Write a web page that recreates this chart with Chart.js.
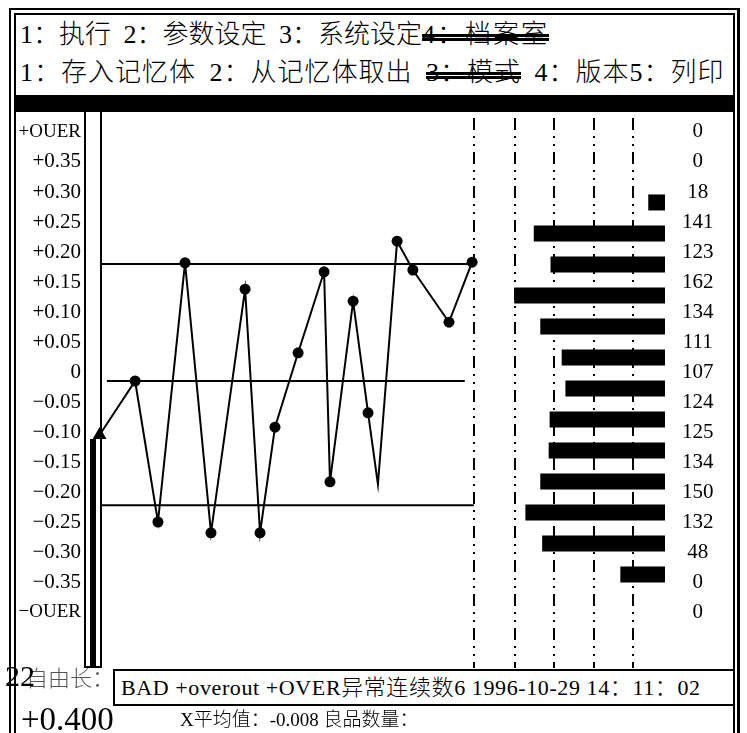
<!DOCTYPE html>
<html>
<head>
<meta charset="utf-8">
<script src="https://cdn.jsdelivr.net/npm/chart.js@4.4.0/dist/chart.umd.min.js"></script>
<style>
  body { margin: 0; width: 747px; height: 733px; background: #fff; position: relative; overflow: hidden;
         font-family: 'Liberation Serif', 'Noto Sans CJK SC', serif; color: #000; }
  .ln { position: absolute; background: #000; }
  .txt { position: absolute; white-space: nowrap; line-height: 1; }
  .menu { font-size: 26px; word-spacing: 6px; font-weight: 300; }
  .strike { text-decoration: line-through double 3px; }
  #msg { position: absolute; left: 113px; top: 669px; width: 612px; height: 33px; border: 2px solid #000;
         background: #fff; font-size: 22px; line-height: 33px; padding-left: 6px; white-space: nowrap;
         font-weight: 300; letter-spacing: 0.6px; }
  #chart { position: absolute; left: 16px; top: 112px; }
</style>
</head>
<body>
<!-- double frame -->
<div class="ln" style="left:9px;top:8px;width:2px;height:725px"></div>
<div class="ln" style="left:14px;top:13px;width:2px;height:720px"></div>
<div class="ln" style="left:9px;top:8px;width:731px;height:2px"></div>
<div class="ln" style="left:14px;top:13px;width:721px;height:2px"></div>
<div class="ln" style="left:733px;top:13px;width:2px;height:720px"></div>
<div class="ln" style="left:737px;top:8px;width:3px;height:725px"></div>
<div class="ln" style="left:14px;top:95px;width:721px;height:17px"></div>

<!-- menu rows -->
<div class="txt menu" style="left:20px;top:22px">1：执行 2：参数设定 3：系统设定<span class="strike" style="letter-spacing:2px">4：档案室</span></div>
<div class="txt menu" style="left:20px;top:60px;letter-spacing:1px">1：存入记忆体 2：从记忆体取出 <span class="strike">3：模式</span> 4：版本5：列印</div>

<canvas id="chart" width="717" height="556"></canvas>

<!-- status lines -->
<div class="txt" style="left:26px;top:668px;font-size:22px;color:#555;font-weight:300">自由长：</div>
<div class="txt" style="left:5px;top:661px;font-size:30px">22</div>
<div id="msg">BAD +overout +OVER异常连续数6 1996-10-29 14：11：02</div>
<div class="txt" style="left:21px;top:703px;font-size:33px">+0.400</div>
<div class="txt" style="left:180px;top:710px;font-size:19px;font-weight:300">X平均值：-0.008 良品数量：</div>

<script>
// level ticks shared by the value axis and the histogram
const levels = [0.40, 0.35, 0.30, 0.25, 0.20, 0.15, 0.10, 0.05, 0, -0.05, -0.10, -0.15, -0.20, -0.25, -0.30, -0.35, -0.40];
const levelLabels = ['+OUER', '+0.35', '+0.30', '+0.25', '+0.20', '+0.15', '+0.10', '+0.05', '0',
                     '−0.05', '−0.10', '−0.15', '−0.20', '−0.25', '−0.30', '−0.35', '−OUER'];
const binCounts = [0, 0, 18, 141, 123, 162, 134, 111, 107, 124, 125, 134, 150, 132, 48, 0, 0];

// measured samples (x = sample position, y = deviation)
const sampleX = [-0.05, 1.21, 2.02, 2.98, 3.90, 5.11, 5.64, 6.17, 6.99, 7.91, 8.12, 8.94, 9.47, 9.82, 10.50, 11.06, 12.34, 13.16];
const sampleY = [-0.09, 0.0, -0.235, 0.197, -0.253, 0.153, -0.253, -0.077, 0.047, 0.182, -0.168, 0.133, -0.053, -0.172, 0.233, 0.185, 0.098, 0.198];

// control limits: upper, center, lower
const limitValues = [0.195, 0, -0.207];
const limitFrom = [0, 0.21, 0];
const limitTo = [13.16, 12.9, 13.22];

// histogram column dividers
const dividerX = [13.22, 14.68, 16.06, 17.48, 18.87];

const serif = "'Liberation Serif', 'Noto Sans CJK SC', serif";
const levelIndex = v => levels.findIndex(l => Math.abs(l - v) < 1e-6);

// value gauge left of the plot: outline plus a bar up to the first sample
const gauge = {
  id: 'gauge',
  afterDraw(chart) {
    const { ctx, chartArea } = chart;
    const yScale = chart.scales.y;
    const left = chartArea.left - 16;
    ctx.save();
    ctx.fillStyle = '#000';
    ctx.fillRect(left - 1, chartArea.top, 2, chartArea.bottom - chartArea.top);
    ctx.fillRect(left - 1, chartArea.bottom - 2, 17, 2);
    const top = yScale.getPixelForValue(sampleY[0]) + 4;
    ctx.fillRect(left + 5, top, 6, chartArea.bottom - top);
    ctx.restore();
  }
};

const limitSets = limitValues.map((v, i) => ({
  type: 'line',
  data: [{ x: limitFrom[i], y: v }, { x: limitTo[i], y: v }],
  borderColor: '#000',
  borderWidth: 2,
  pointRadius: 0,
  xAxisID: 'x',
  yAxisID: 'y'
}));

new Chart(document.getElementById('chart'), {
  type: 'line',
  data: {
    datasets: [
      ...limitSets,
      {
        type: 'line',
        data: sampleX.map((x, i) => ({ x: x, y: sampleY[i] })),
        borderColor: '#000',
        borderWidth: 2,
        backgroundColor: '#000',
        pointBackgroundColor: '#000',
        pointBorderWidth: 0,
        pointRadius: sampleX.map((x, i) => i === 0 ? 8 : (i === 13 ? 0 : 5.5)),
        pointStyle: sampleX.map((x, i) => i === 0 ? 'triangle' : 'circle'),
        tension: 0,
        clip: false,
        xAxisID: 'x',
        yAxisID: 'y'
      },
      {
        type: 'bar',
        indexAxis: 'y',
        data: levels.map((v, i) => ({ x: binCounts[i], y: v })),
        backgroundColor: '#000',
        borderWidth: 0,
        inflateAmount: 0,
        barThickness: 16,
        xAxisID: 'xc',
        yAxisID: 'yb'
      }
    ]
  },
  options: {
    responsive: false,
    animation: false,
    devicePixelRatio: 1,
    layout: { padding: 0, autoPadding: false },
    plugins: { legend: { display: false }, tooltip: { enabled: false } },
    scales: {
      x: {
        type: 'linear',
        position: 'bottom',
        min: 0,
        max: 20,
        afterBuildTicks: s => { s.ticks = dividerX.map(v => ({ value: v })); },
        afterFit: s => { s.height = 0; },
        ticks: { display: false },
        grid: { color: '#000', lineWidth: 2, drawTicks: false },
        border: { display: false, dash: [12, 6, 2, 6, 2, 6], dashOffset: 28 }
      },
      xc: {
        type: 'linear',
        axis: 'x',
        position: 'bottom',
        reverse: true,
        offset: false,
        min: 0,
        max: 606,
        display: false
      },
      y: {
        type: 'linear',
        position: 'left',
        min: -0.4783,
        max: 0.4483,
        afterBuildTicks: s => { s.ticks = levels.map(v => ({ value: v })); },
        afterFit: s => { s.width = 85; s.paddingTop = 0; s.paddingBottom = 0; },
        ticks: {
          color: '#000',
          // the OUER labels are longer, so set them a little smaller
          font: ctx => ({ family: serif, size: (ctx.tick && Math.abs(ctx.tick.value) > 0.39) ? 19 : 21 }),
          padding: 20,
          labelOffset: -9,
          callback: v => levelLabels[levelIndex(v)]
        },
        grid: { drawOnChartArea: false, drawTicks: false },
        border: { display: true, color: '#000', width: 2 }
      },
      yr: {
        type: 'linear',
        position: 'right',
        min: -0.4783,
        max: 0.4483,
        afterBuildTicks: s => { s.ticks = levels.map(v => ({ value: v })); },
        afterFit: s => { s.width = 68; s.paddingTop = 0; s.paddingBottom = 0; },
        ticks: {
          color: '#000',
          font: { family: serif, size: 21 },
          padding: 17,
          crossAlign: 'center',
          labelOffset: -9,
          callback: v => String(binCounts[levelIndex(v)])
        },
        grid: { drawOnChartArea: false, drawTicks: false },
        border: { display: false }
      },
      yb: {
        type: 'linear',
        axis: 'y',
        position: 'left',
        offset: false,
        grid: { offset: false },
        min: -0.4637,
        max: 0.4330,
        display: false
      }
    }
  },
  plugins: [gauge]
});
</script>
</body>
</html>
